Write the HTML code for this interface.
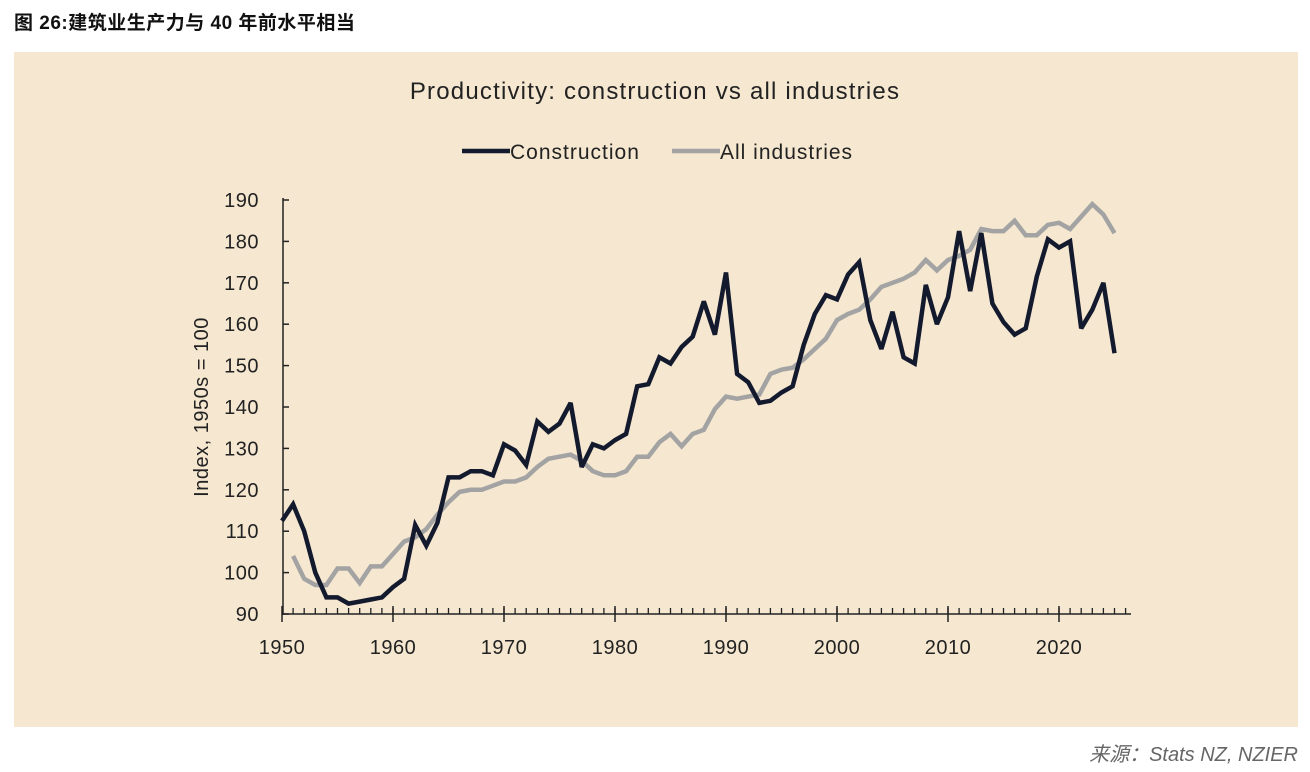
<!DOCTYPE html>
<html><head><meta charset="utf-8"><style>
body{margin:0;width:1310px;height:772px;background:#fff;overflow:hidden;font-family:"Liberation Sans","Noto Sans CJK SC",sans-serif}
#hdr{position:absolute;left:14px;top:8px;font-size:19px;font-weight:bold;color:#111;letter-spacing:0.5px}
#panel{position:absolute;left:14px;top:52px;width:1284px;height:675px;background:#f5e7d0}
#src{position:absolute;right:12px;top:738px;font-size:20px;font-style:italic;color:#666}
</style></head><body>
<div id="hdr">图 26:建筑业生产力与 40 年前水平相当</div>
<div id="panel"></div>
<svg id="chart" width="1310" height="772" style="position:absolute;left:0;top:0"></svg>
<div id="src">来源：Stats NZ, NZIER</div>
<script>
const years=[];for(let y=1950;y<=2025;y++)years.push(y);
const construction=[112.5,116.5,110,100,94,94,92.5,93,93.5,94,96.5,98.5,111.5,106.5,112,123,123,124.5,124.5,123.5,131,129.5,126,136.5,134,136,141,125.5,131,130,132,133.5,145,145.5,152,150.5,154.5,157,165.5,157.5,172.5,148,146,141,141.5,143.5,145,155,162.5,167,166,172,175,161,154,163,152,150.5,169.5,160,166.5,182.5,168,182,165,160.5,157.5,159,171.5,180.5,178.5,180,159,163.5,170,153];
const allInd=[null,104,98.5,97,97,101,101,97.5,101.5,101.5,104.5,107.5,108.5,110.5,114,117,119.5,120,120,121,122,122,123,125.5,127.5,128,128.5,127,124.5,123.5,123.5,124.5,128,128,131.5,133.5,130.5,133.5,134.5,139.5,142.5,142,142.5,143,148,149,149.5,151.5,154,156.5,161,162.5,163.5,166,169,170,171,172.5,175.5,173,175.5,176.5,178,183,182.5,182.5,185,181.5,181.5,184,184.5,183,186,189,186.5,182];
const yTicks=[90,100,110,120,130,140,150,160,170,180,190];
const xTicks=[1950,1960,1970,1980,1990,2000,2010,2020];
const NS='http://www.w3.org/2000/svg';
const svg=document.getElementById('chart');
const X=y=>282+(y-1950)*11.1, Y=v=>614-(v-90)*4.14;
function mk(t,a,txt){const e=document.createElementNS(NS,t);for(const k in a)e.setAttribute(k,a[k]);if(txt!==undefined)e.textContent=txt;svg.appendChild(e);return e;}
let e=mk('text',{x:655,y:99,'text-anchor':'middle','font-size':24,'letter-spacing':1.2,fill:'#222'},'Productivity: construction vs all industries');


e=mk('line',{x1:462,y1:151,x2:510,y2:151,stroke:'#141a2e','stroke-width':4.5});


e=mk('text',{x:510,y:159,'font-size':21,'letter-spacing':1,fill:'#222'},'Construction');


e=mk('line',{x1:672,y1:151,x2:720,y2:151,stroke:'#a3a3a3','stroke-width':4.5});


e=mk('text',{x:720,y:159,'font-size':21,'letter-spacing':1,fill:'#222'},'All industries');


e=mk('text',{x:0,y:0,'font-size':20,'letter-spacing':0.5,fill:'#222','text-anchor':'middle',transform:'translate(208,407) rotate(-90)'},'Index, 1950s = 100');


e=mk('line',{x1:283,y1:198,x2:283,y2:615,stroke:'#222','stroke-width':1.5});


e=mk('line',{x1:282,y1:614,x2:1131,y2:614,stroke:'#222','stroke-width':1.5});


yTicks.forEach(v=>{
 e=mk('line',{x1:283,y1:Y(v),x2:289,y2:Y(v),stroke:'#222','stroke-width':1.5});
 
 
 e=mk('text',{x:259,y:Y(v)+7,'text-anchor':'end','font-size':20,'letter-spacing':0.5,fill:'#222'},v);
 
 
});
for(let y=1951;y<=2026;y++){
 e=mk('line',{x1:X(y),y1:614,x2:X(y),y2:608,stroke:'#222','stroke-width':1.3});
 
 
}
xTicks.forEach(y=>{
 e=mk('line',{x1:X(y),y1:606,x2:X(y),y2:622,stroke:'#222','stroke-width':1.5});
 
 
 e=mk('text',{x:X(y),y:654,'text-anchor':'middle','font-size':20,'letter-spacing':0.5,fill:'#222'},y);
 
 
});
function line(vals,col,name){
 const pts=[];vals.forEach((v,i)=>{if(v!==null)pts.push(X(years[i]).toFixed(1)+','+Y(v).toFixed(1));});
 const p=mk('polyline',{points:pts.join(' '),fill:'none',stroke:col,'stroke-width':4.5,'stroke-linejoin':'miter','stroke-miterlimit':3});
 
 
}
line(allInd,'#a3a3a3','all-industries-line');
line(construction,'#141a2e','construction-line');
</script>
</body></html>
